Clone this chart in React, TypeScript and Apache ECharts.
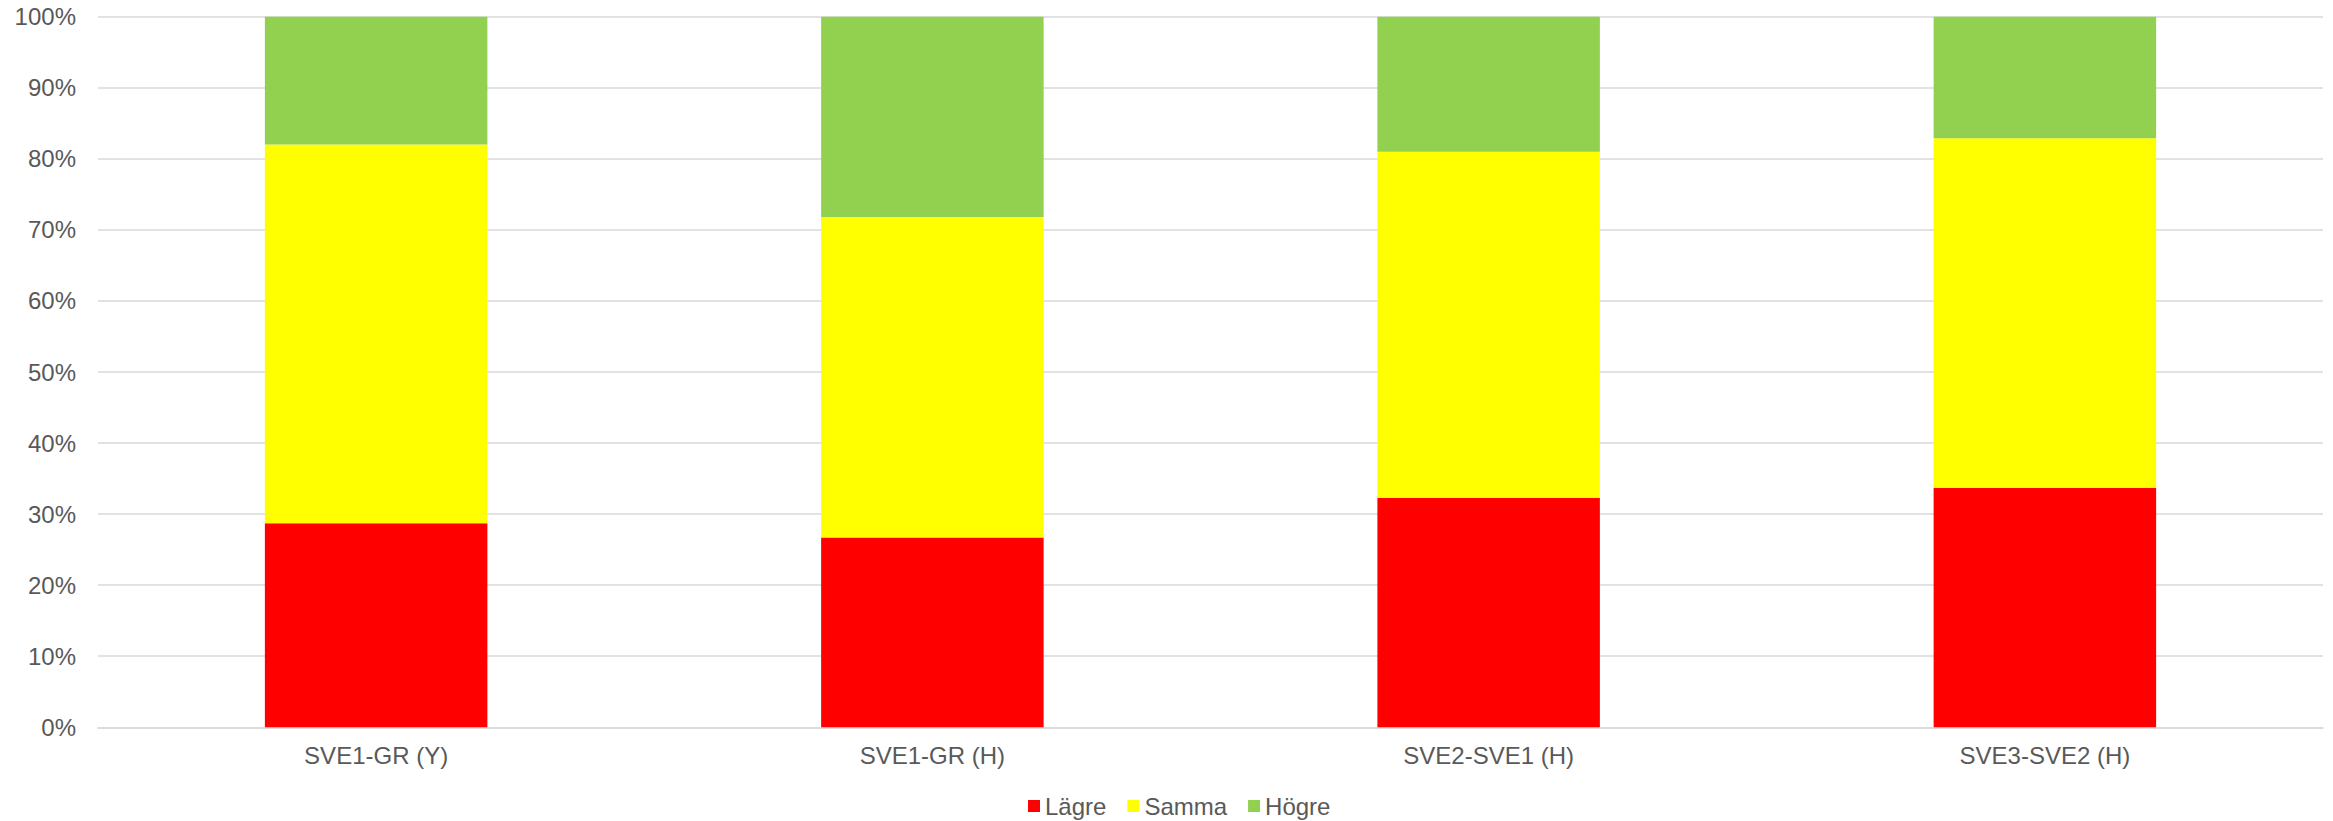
import React, { useEffect, useRef } from "react";
import * as echarts from "echarts";

const categories = ["SVE1-GR (Y)", "SVE1-GR (H)", "SVE2-SVE1 (H)", "SVE3-SVE2 (H)"];
const lagre = [28.7, 26.7, 32.3, 33.7];
const samma = [53.3, 45.1, 48.7, 49.2];
const hogre = [18.0, 28.2, 19.0, 17.1];
const seriesNames = ["Lägre", "Samma", "Högre"];
const seriesColors = ["#FF0000", "#FFFF00", "#92D050"];

const FONT = "'Liberation Sans', Arial, sans-serif";
const TEXT = "#595959";

export default function App() {
  const ref = useRef<HTMLDivElement>(null);
  useEffect(() => {
    document.body.style.margin = "0";
    if (!ref.current) return;
    const chart = echarts.init(ref.current, undefined, { renderer: "svg" });
    const data = [lagre, samma, hogre];
    chart.setOption({
      animation: false,
      backgroundColor: "#ffffff",
      textStyle: { fontFamily: FONT },
      grid: { left: 98, right: 10, top: 16.7, bottom: 93.7, containLabel: false },
      legend: {
        data: seriesNames,
        left: 1023,
        top: 789,
        itemWidth: 12,
        itemHeight: 12,
        itemGap: 21,
        icon: "rect",
        textStyle: { fontSize: 24, color: TEXT, fontFamily: FONT },
      },
      xAxis: {
        type: "category",
        data: categories,
        axisLine: { show: true, lineStyle: { color: "#d9d9d9", width: 1.5 } },
        axisTick: { show: false },
        axisLabel: { fontSize: 24, color: TEXT, margin: 16, fontFamily: FONT },
      },
      yAxis: {
        type: "value",
        min: 0,
        max: 100,
        interval: 10,
        axisLine: { show: false },
        axisTick: { show: false },
        axisLabel: { fontSize: 24, color: TEXT, margin: 22, formatter: "{value}%", fontFamily: FONT },
        splitLine: { lineStyle: { color: "#d9d9d9", width: 1.5 } },
      },
      series: seriesNames.map((name, i) => ({
        name,
        type: "bar",
        stack: "total",
        data: data[i],
        barWidth: "40%",
        itemStyle: { color: seriesColors[i] },
      })),
    });
    return () => chart.dispose();
  }, []);
  return <div ref={ref} style={{ width: 2333, height: 821 }} />;
}
